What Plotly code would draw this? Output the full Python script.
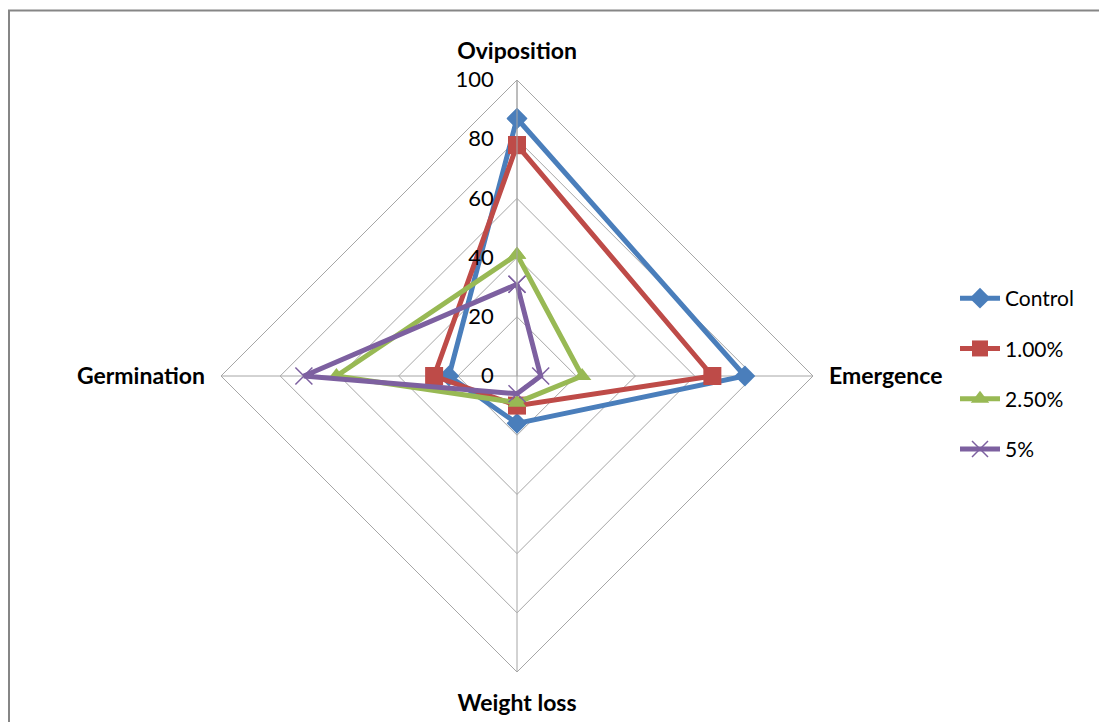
import plotly.graph_objects as go

# Radar axes and series values (percent scale, 0-100)
axes = ["Oviposition", "Emergence", "Weight loss", "Germination"]
control = [87, 77, 16, 23]
pct_1 = [78, 66, 10, 28]
pct_2_5 = [41, 22, 9, 61]
pct_5 = [31, 8, 6, 72]
series_names = ["Control", "1.00%", "2.50%", "5%"]
radial_ticks = [0, 20, 40, 60, 80, 100]

colors = ["#4A7EBB", "#BE4B48", "#98B954", "#7D60A0"]
symbols = ["diamond", "square", "triangle-up", "x-thin"]
sizes = [16, 18, 16, 17]

W, H = 1099, 722
cx, cy, R = 517, 376, 296

fig = go.Figure()
for i, (name, vals) in enumerate(zip(series_names, [control, pct_1, pct_2_5, pct_5])):
    marker = dict(symbol=symbols[i], size=sizes[i], color=colors[i])
    if symbols[i] == "x-thin":
        marker["line"] = dict(color=colors[i], width=1.5)
    fig.add_trace(go.Scatterpolar(
        r=vals + vals[:1],
        theta=axes + axes[:1],
        mode="lines+markers",
        name=name,
        legendgroup=name,
        line=dict(color=colors[i], width=5),
        marker=marker,
    ))

fig.update_layout(
    width=W, height=H,
    margin=dict(l=0, r=0, t=0, b=0),
    paper_bgcolor="white",
    plot_bgcolor="white",
    font=dict(family="Lato, 'Open Sans', sans-serif", color="#000000"),
    polar=dict(
        domain=dict(x=[(cx - R) / W, (cx + R) / W],
                    y=[1 - (cy + R) / H, 1 - (cy - R) / H]),
        bgcolor="white",
        gridshape="linear",
        radialaxis=dict(
            range=[0, 100],
            tickvals=radial_ticks,
            angle=90,
            tickangle=90,
            side="counterclockwise",
            showline=True,
            linecolor="#A6A6A6",
            linewidth=1,
            gridcolor="#A6A6A6",
            gridwidth=1,
            ticks="outside",
            ticklen=15,
            tickcolor="rgba(0,0,0,0)",
            tickfont=dict(size=22, family="Lato", color="#000000"),
        ),
        angularaxis=dict(
            rotation=90,
            direction="clockwise",
            showline=True,
            linecolor="#A6A6A6",
            linewidth=1,
            gridcolor="#A6A6A6",
            gridwidth=1,
            ticks="outside",
            ticklen=11,
            tickcolor="rgba(0,0,0,0)",
            tickfont=dict(size=23, family="Lato", color="#000000", weight="bold"),
        ),
    ),
    legend=dict(
        x=955 / W, y=1 - 278 / H,
        xanchor="left", yanchor="top",
        font=dict(size=21, family="Lato", color="#000000"),
        traceorder="grouped",
        tracegroupgap=20,
        itemwidth=40,
        bgcolor="rgba(0,0,0,0)",
    ),
    shapes=[dict(
        type="rect", xref="paper", yref="paper",
        x0=9 / W, x1=1.05, y0=-0.05, y1=1 - 10.5 / H,
        line=dict(color="#868686", width=2),
        layer="below",
    )],
)

fig.write_html("out.html")
